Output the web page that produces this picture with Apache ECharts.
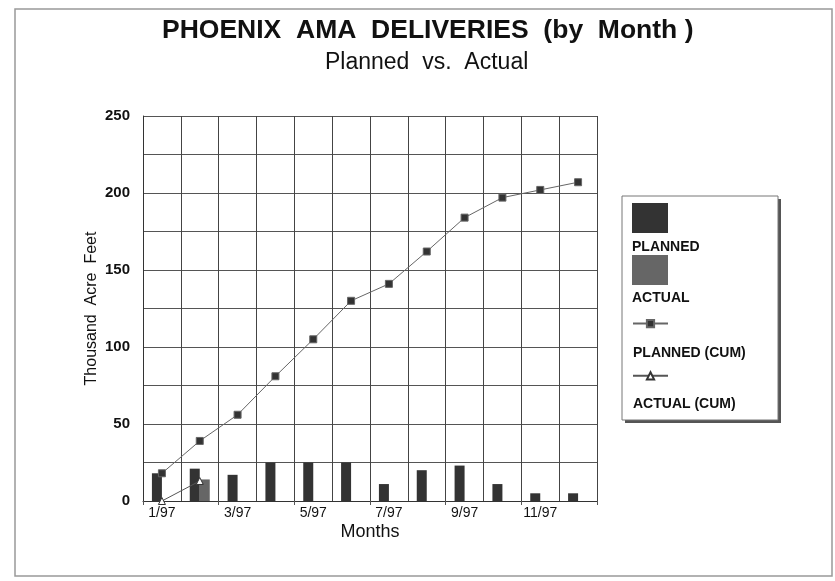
<!DOCTYPE html>
<html>
<head>
<meta charset="utf-8">
<title>Phoenix AMA Deliveries</title>
<script src="https://cdn.jsdelivr.net/npm/echarts@6/dist/echarts.min.js"></script>
<style>
      html, body { margin: 0; padding: 0; background: #fff; }
      #chart { width: 835px; height: 581px; }
</style>
</head>
<body>
<div id="chart"></div>
<script>
// data (thousand acre feet)
let months = ['1/97', '2/97', '3/97', '4/97', '5/97', '6/97', '7/97', '8/97', '9/97', '10/97', '11/97', '12/97'];
let planned = [18, 21, 17, 25, 25, 25, 11, 20, 23, 11, 5, 5];
let actual = [null, 14, null, null, null, null, null, null, null, null, null, null];
let plannedCum = [18, 39, 56, 81, 105, 130, 141, 162, 184, 197, 202, 207];
let actualCum = [0, 13, null, null, null, null, null, null, null, null, null, null];

let fontName = 'Liberation Sans, Arial, sans-serif';

let chart = echarts.init(document.getElementById('chart'));

// legend text only, icon kept invisible so the names can sit under the icons
let legendText = {
      orient: 'vertical',
      padding: 0,
      left: 627,
      icon: 'rect',
      itemWidth: 0,
      itemHeight: 12,
      itemGap: 37,
      itemStyle: { opacity: 0 },
      textStyle: { fontFamily: fontName, fontSize: 14, fontWeight: 'bold', color: '#111' }
};

let option = {
      backgroundColor: '#fff',
      animation: false,
      title: [{
            text: 'PHOENIX  AMA  DELIVERIES  (by  Month )',
            left: 157,
            top: 12,
            textStyle: { fontFamily: fontName, fontSize: 26.5, fontWeight: 'bold', color: '#111' }
      }, {
            text: 'Planned  vs.  Actual',
            left: 320,
            top: 46,
            textStyle: { fontFamily: fontName, fontSize: 23, fontWeight: 'normal', color: '#111' }
      }],
      legend: [{
            data: ['PLANNED', 'ACTUAL'],
            orient: 'vertical',
            padding: 0,
            left: 632,
            top: 203,
            icon: 'rect',
            itemWidth: 36,
            itemHeight: 30,
            itemGap: 22,
            formatter: function () { return ''; }
      }, {
            data: ['PLANNED (CUM)', 'ACTUAL (CUM)'],
            orient: 'vertical',
            padding: 0,
            left: 632,
            top: 319,
            itemWidth: 35,
            itemHeight: 9,
            itemGap: 43,
            formatter: function () { return ''; }
      },
      Object.assign({ data: ['PLANNED', 'ACTUAL'], top: 240 }, legendText),
      Object.assign({ data: ['PLANNED (CUM)', 'ACTUAL (CUM)'], top: 346 }, legendText)],
      graphic: [{
            type: 'rect',
            shape: { x: 15, y: 9, width: 817, height: 567 },
            style: { fill: 'none', stroke: '#999', lineWidth: 1.5 },
            z: -10
      }, {
            type: 'rect',
            shape: { x: 625, y: 199, width: 156, height: 224 },
            style: { fill: '#555' },
            z: -5
      }, {
            type: 'rect',
            shape: { x: 622, y: 196, width: 156, height: 224 },
            style: { fill: '#fff', stroke: '#777', lineWidth: 1 },
            z: -4
      }],
      grid: {
            left: 143,
            right: 238,
            top: 116,
            bottom: 80
      },
      xAxis: {
            type: 'category',
            data: months,
            name: 'Months',
            nameLocation: 'middle',
            nameGap: 22,
            nameMoveOverlap: false,
            nameTextStyle: { fontFamily: fontName, fontSize: 18, color: '#111' },
            axisLine: { lineStyle: { color: '#333', width: 1 } },
            axisTick: { show: true, length: 4, lineStyle: { color: '#555' } },
            axisLabel: {
                  interval: 1,
                  margin: 5,
                  fontFamily: fontName,
                  fontSize: 14,
                  color: '#111'
            },
            splitLine: { show: true, interval: 0, lineStyle: { color: '#444', width: 1 } }
      },
      yAxis: {
            type: 'value',
            min: 0,
            max: 250,
            interval: 25,
            name: 'Thousand  Acre  Feet',
            nameLocation: 'middle',
            nameGap: 43,
            nameMoveOverlap: false,
            nameTextStyle: { fontFamily: fontName, fontSize: 16, color: '#111' },
            axisLine: { show: true, lineStyle: { color: '#333', width: 1 } },
            axisTick: { show: false },
            axisLabel: {
                  margin: 13,
                  fontFamily: fontName,
                  fontSize: 15,
                  fontWeight: 'bold',
                  color: '#111',
                  formatter: function (v) {
                        return v % 50 == 0 ? v : '';
                  }
            },
            splitLine: { lineStyle: { color: '#555', width: 1 } }
      },
      series: [{
            name: 'PLANNED',
            type: 'bar',
            data: planned,
            barWidth: 10,
            barGap: '0%',
            itemStyle: { color: '#333' }
      }, {
            name: 'ACTUAL',
            type: 'bar',
            data: actual,
            barWidth: 10,
            itemStyle: { color: '#666' }
      }, {
            name: 'PLANNED (CUM)',
            type: 'line',
            data: plannedCum,
            symbol: 'rect',
            symbolSize: 7,
            lineStyle: { color: '#666', width: 1 },
            itemStyle: { color: '#333', borderColor: '#666', borderWidth: 1 }
      }, {
            name: 'ACTUAL (CUM)',
            type: 'line',
            data: actualCum,
            symbol: 'triangle',
            symbolSize: 7,
            lineStyle: { color: '#555', width: 1 },
            itemStyle: { color: '#fff', borderColor: '#333', borderWidth: 1 }
      }]
};

chart.setOption(option);
</script>
</body>
</html>
